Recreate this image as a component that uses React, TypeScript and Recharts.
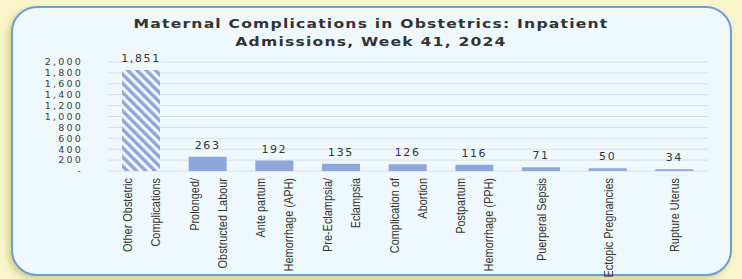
import React from "react";
import { BarChart, Bar, XAxis, YAxis, CartesianGrid, Cell, LabelList } from "recharts";

const categoryLines: string[][] = [
  ["Other Obstetric", "Complications"],
  ["Prolonged/", "Obstructed Labour"],
  ["Ante partum", "Hemorrhage (APH)"],
  ["Pre-Eclampsia/", "Eclampsia"],
  ["Complication of", "Abortion"],
  ["Postpartum", "Hemorrhage (PPH)"],
  ["Puerperal Sepsis"],
  ["Ectopic Pregnancies"],
  ["Rupture Uterus"],
];

const admissions: number[] = [1851, 263, 192, 135, 126, 116, 71, 50, 34];

const yTicks: number[] = [0, 200, 400, 600, 800, 1000, 1200, 1400, 1600, 1800, 2000];

const titleLines: string[] = [
  "Maternal Complications in Obstetrics: Inpatient",
  "Admissions, Week 41, 2024",
];

const data = categoryLines.map((lines, i) => ({
  name: lines.join(" "),
  value: admissions[i],
}));

const BAR_COLOR = "#8fa6da";
const NUM_FONT = "'DejaVu Sans', Verdana, sans-serif";
const LABEL_FONT = "'Liberation Sans', Arial, sans-serif";
const SQUEEZE = 0.84;

const fmt = (v: number) => (v === 0 ? "-" : v.toLocaleString("en-US"));

const XTick = (props: any) => {
  const { x, y, payload } = props;
  const idx = categoryLines.findIndex((l) => l.join(" ") === payload.value);
  const lines = categoryLines[idx] || [String(payload.value)];
  const offs = lines.length === 2 ? [-14, 14] : [0];
  return (
    <g transform={`translate(${x},${y})`}>
      {lines.map((l, i) => (
        <text
          key={i}
          transform={`rotate(-90) scale(${SQUEEZE},1)`}
          x={-7 / SQUEEZE}
          y={offs[i]}
          dy="0.35em"
          textAnchor="end"
          fontFamily={LABEL_FONT}
          fontSize={13}
          fill="#333"
        >
          {l}
        </text>
      ))}
    </g>
  );
};

export default function App() {
  return (
    <div
      style={{
        position: "fixed",
        left: 0,
        top: 0,
        width: 742,
        height: 279,
        background: "#f8f6c9",
        overflow: "hidden",
      }}
    >
      <div
        style={{
          position: "absolute",
          left: 11,
          top: 6,
          width: 717,
          height: 266,
          border: "2px solid #6f9dd7",
          borderRadius: 26,
          background: "#eff9fd",
          boxShadow: "-3px 3px 6px rgba(170,160,80,0.45)",
        }}
      />
      <div
        style={{
          position: "absolute",
          left: 0,
          top: 15,
          width: 742,
          textAlign: "center",
          fontFamily: NUM_FONT,
          fontWeight: "bold",
          fontSize: 13,
          letterSpacing: 1,
          lineHeight: "18px",
          color: "#333",
          transform: "scaleX(1.2)",
          transformOrigin: "371px 0px",
        }}
      >
        {titleLines.map((t, i) => (
          <div key={i}>{t}</div>
        ))}
      </div>
      <div style={{ position: "absolute", left: 0, top: 0 }}>
        <BarChart
          width={742}
          height={279}
          data={data}
          margin={{ top: 62, right: 34, bottom: 8, left: 48 }}
        >
          <defs>
            <pattern
              id="hatch"
              patternUnits="userSpaceOnUse"
              width={6.5}
              height={6.5}
              patternTransform="rotate(-45)"
            >
              <rect x={0} y={0} width={6.5} height={6.5} fill="#f3f7fd" />
              <rect x={0} y={0} width={3.4} height={6.5} fill={BAR_COLOR} />
            </pattern>
          </defs>
          <CartesianGrid vertical={false} stroke="#d9dee2" />
          <XAxis
            dataKey="name"
            axisLine={false}
            tickLine={false}
            tickSize={0}
            tickMargin={0}
            interval={0}
            height={100}
            tick={<XTick />}
          />
          <YAxis
            width={60}
            domain={[0, 2000]}
            ticks={yTicks}
            interval={0}
            axisLine={false}
            tickLine={false}
            tickSize={0}
            tickMargin={25}
            tickFormatter={fmt}
            tick={{ fontFamily: NUM_FONT, fontSize: 9.5, fill: "#3a3a3a", letterSpacing: 2.2 } as any}
          />
          <Bar dataKey="value" barSize={38} isAnimationActive={false}>
            {data.map((d, i) => (
              <Cell key={i} fill={i === 0 ? "url(#hatch)" : BAR_COLOR} />
            ))}
            <LabelList
              dataKey="value"
              position="top"
              offset={8}
              formatter={(v: any) => fmt(Number(v))}
              style={{ fontFamily: NUM_FONT, fontSize: 11, fill: "#333", letterSpacing: 1.6 }}
            />
          </Bar>
        </BarChart>
      </div>
    </div>
  );
}
